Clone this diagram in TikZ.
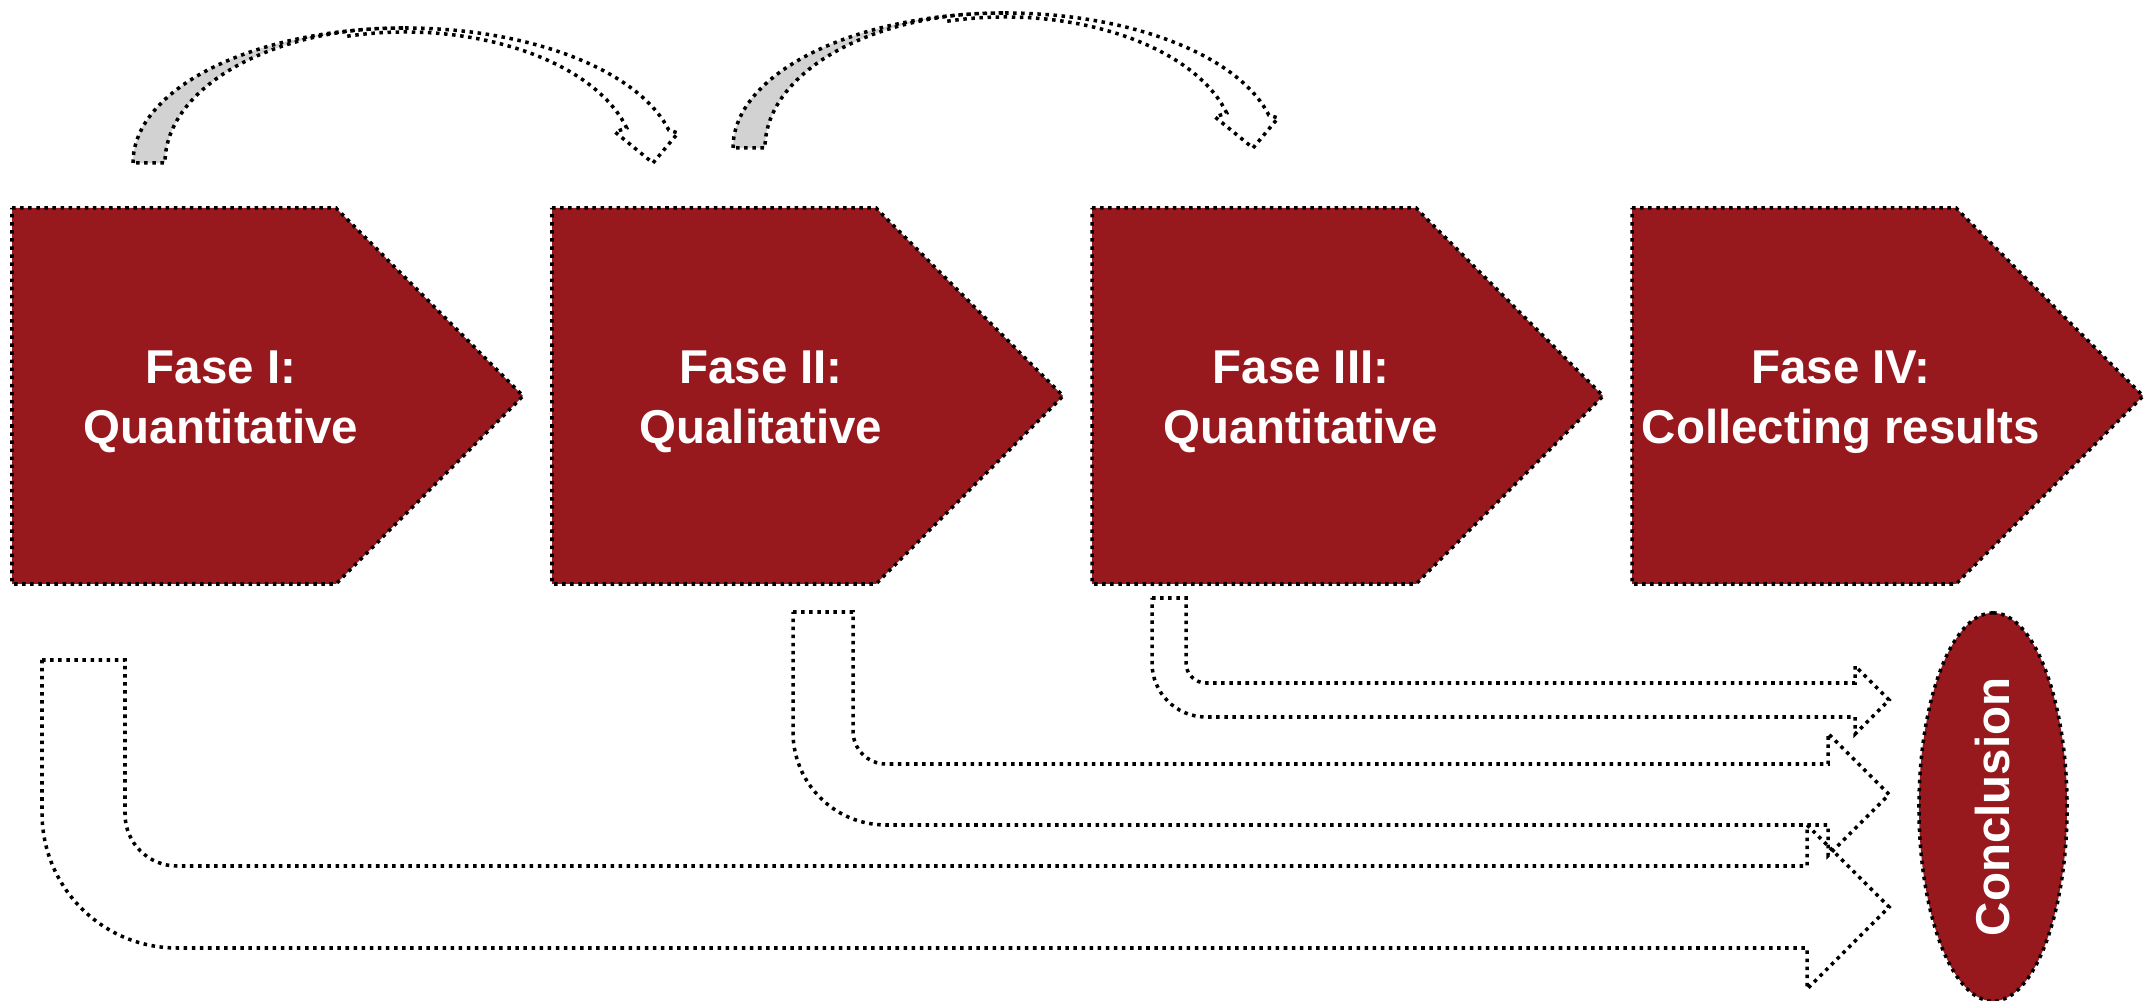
\documentclass[tikz,border=0pt]{standalone}
\usepackage{fontspec}
\setmainfont{Liberation Sans}
\usepackage{xcolor}
\usepackage{tikz}
\usetikzlibrary{shapes.geometric,positioning,calc}
\definecolor{fasered}{RGB}{151,25,30}
\definecolor{bendgray}{RGB}{210,210,210}

\begin{document}
\begin{tikzpicture}[x=0.01cm, y=-0.01cm,
            dots/.style={draw=black, line width=1pt, dash pattern=on 1pt off 1.3pt},
            fase/.style={dots, fill=fasered},
            fasetext/.style={text=white, font=\fontsize{13.5}{17}\selectfont\bfseries, align=center}
        ]
            \useasboundingbox (0,0) rectangle (2145,1001);

            % Phases
            \foreach \i/\txt in {1/{Fase I:\\Quantitative}, 2/{Fase II:\\Qualitative},
                                 3/{Fase III:\\Quantitative}, 4/{Fase IV:\\Collecting results}} {
                \pgfmathsetmacro{\xl}{12+540*(\i-1)}
                \draw[fase] (\xl,208) -- ++(324,0) -- ++(187,188) -- ++(-187,188) -- ++(-324,0) -- cycle;
                \node[fasetext] (f\i) at (\xl+209,402) {\txt};
            }

            % Curved arrows on top
            \foreach \s in {0,1} {
                \begin{scope}[shift={(600*\s,-15*\s)}]
                    \draw[dots, fill=bendgray] (133,163) arc[start angle=180, end angle=270, x radius=272, y radius=135]
                        -- (400,28) arc[start angle=270, end angle=180, x radius=235, y radius=135] -- cycle;
                    \draw[dots] (405,28) arc[start angle=270, end angle=345.9, x radius=272, y radius=135]
                        -- (678,133) -- (653,163) -- (615,132) -- (626.7,128)
                        arc[start angle=344.5, end angle=255, x radius=230, y radius=131];
                \end{scope}
            }

            % Bent arrows to the conclusion
            \foreach \xl/\xr/\yt/\yi/\yo/\ri in {42/125/660/866/948/52, 793/853/612/764/825/33, 1152/1186/598/683/717/20} {
                \pgfmathsetmacro{\w}{\yo-\yi}
                \pgfmathsetmacro{\ro}{\ri+\xr-\xl}
                \draw[dots] (\xl,\yt) -- (\xr,\yt) -- (\xr,\yi-\ri) arc[start angle=180, end angle=90, radius=\ri]
                    -- (1889-\w,\yi) -- (1889-\w,\yi-\w/2) -- (1889,\yi+\w/2) -- (1889-\w,\yo+\w/2)
                    -- (1889-\w,\yo) -- (\xl+\ro,\yo) arc[start angle=90, end angle=180, radius=\ro] -- cycle;
            }

            % Conclusion
            \node[ellipse, fase, fasetext, rotate=90, minimum width=3.88cm, minimum height=1.48cm, inner sep=0pt]
                (concl) at (1993,807) {Conclusion};
        \end{tikzpicture}
\end{document}
